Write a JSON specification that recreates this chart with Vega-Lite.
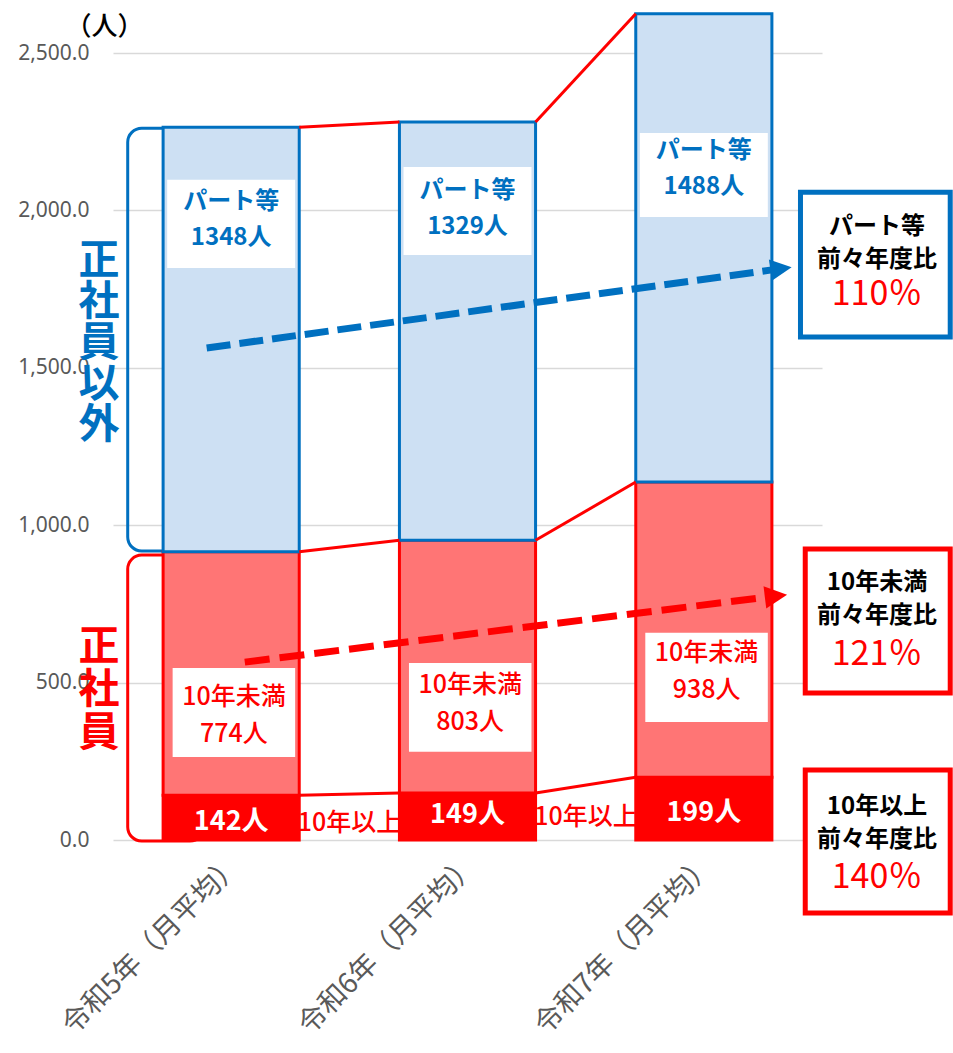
{
  "$schema": "https://vega.github.io/schema/vega-lite/v6.json",
  "width": 709,
  "height": 787,
  "autosize": {"type": "none"},
  "padding": {"left": 113, "top": 53, "right": 131, "bottom": 213},
  "background": "white",
  "config": {
    "view": {"stroke": null},
    "font": "Noto Sans CJK JP"
  },
  "datasets": {
    "bars": [
      {"cat": "令和5年（月平均）", "seg": "10年以上", "value": 142},
      {"cat": "令和5年（月平均）", "seg": "10年未満", "value": 774},
      {"cat": "令和5年（月平均）", "seg": "パート等", "value": 1348},
      {"cat": "令和6年（月平均）", "seg": "10年以上", "value": 149},
      {"cat": "令和6年（月平均）", "seg": "10年未満", "value": 803},
      {"cat": "令和6年（月平均）", "seg": "パート等", "value": 1329},
      {"cat": "令和7年（月平均）", "seg": "10年以上", "value": 199},
      {"cat": "令和7年（月平均）", "seg": "10年未満", "value": 938},
      {"cat": "令和7年（月平均）", "seg": "パート等", "value": 1488}
    ],
    "links": [
      {"from": "令和5年（月平均）", "to": "令和6年（月平均）", "v1": 142, "v2": 149},
      {"from": "令和6年（月平均）", "to": "令和7年（月平均）", "v1": 149, "v2": 199},
      {"from": "令和5年（月平均）", "to": "令和6年（月平均）", "v1": 916, "v2": 952},
      {"from": "令和6年（月平均）", "to": "令和7年（月平均）", "v1": 952, "v2": 1137},
      {"from": "令和5年（月平均）", "to": "令和6年（月平均）", "v1": 2264, "v2": 2281},
      {"from": "令和6年（月平均）", "to": "令和7年（月平均）", "v1": 2281, "v2": 2625}
    ],
    "brackets": [
      {"cat": "令和5年（月平均）", "seg": "パート等", "top": 2261, "bottom": 918},
      {"cat": "令和5年（月平均）", "seg": "10年未満", "top": 905, "bottom": -3}
    ],
    "sideText": [
      {"cat": "令和5年（月平均）", "seg": "パート等", "label": "正\n社\n員\n以\n外", "y": 1836},
      {"cat": "令和5年（月平均）", "seg": "10年未満", "label": "正\n社\n員", "y": 610}
    ],
    "partLabels": [
      {"cat": "令和5年（月平均）", "label": "パート等\n1348人", "y": 2027, "top": 2097, "bottom": 1817},
      {"cat": "令和6年（月平均）", "label": "パート等\n1329人", "y": 2062, "top": 2138, "bottom": 1858},
      {"cat": "令和7年（月平均）", "label": "パート等\n1488人", "y": 2189, "top": 2246, "bottom": 1979}
    ],
    "underLabels": [
      {"cat": "令和5年（月平均）", "label": "10年未満\n774人", "y": 454, "top": 546, "bottom": 264},
      {"cat": "令和6年（月平均）", "label": "10年未満\n803人", "y": 492, "top": 562, "bottom": 280},
      {"cat": "令和7年（月平均）", "label": "10年未満\n938人", "y": 594, "top": 658, "bottom": 375}
    ],
    "overLabels": [
      {"cat": "令和5年（月平均）", "label": "142人", "y": 57},
      {"cat": "令和6年（月平均）", "label": "149人", "y": 79},
      {"cat": "令和7年（月平均）", "label": "199人", "y": 86}
    ],
    "gapLabels": [
      {"from": "令和5年（月平均）", "label": "10年以上", "y": 54},
      {"from": "令和6年（月平均）", "label": "10年以上", "y": 73}
    ],
    "arrows": [
      {"kind": "パート等", "c1": "令和5年（月平均）", "c2": "令和7年（月平均）", "y1": 1563, "y2": 1811, "tipY": 1815},
      {"kind": "10年未満", "c1": "令和5年（月平均）", "c2": "令和7年（月平均）", "y1": 565, "y2": 772, "tipY": 775}
    ],
    "ratioBoxes": [
      {"cat": "令和7年（月平均）", "kind": "パート等", "head": "パート等\n前々年度比", "pct": "110％", "top": 2058, "bottom": 1598, "headY": 1947, "pctY": 1731},
      {"cat": "令和7年（月平均）", "kind": "10年未満", "head": "10年未満\n前々年度比", "pct": "121％", "top": 924, "bottom": 467, "headY": 816, "pctY": 588},
      {"cat": "令和7年（月平均）", "kind": "10年以上", "head": "10年以上\n前々年度比", "pct": "140％", "top": 222, "bottom": -232, "headY": 105, "pctY": -121}
    ]
  },
  "layer": [
    {
      "data": {"name": "brackets"},
      "mark": {"type": "rect", "filled": false, "strokeWidth": 3, "cornerRadius": 14},
      "encoding": {
        "x": {"field": "cat", "type": "nominal", "bandPosition": -0.26},
        "x2": {"field": "cat", "bandPosition": 0.3},
        "y": {"field": "top", "type": "quantitative"},
        "y2": {"field": "bottom"},
        "stroke": {"field": "seg", "type": "nominal", "scale": {"domain": ["10年以上", "10年未満", "パート等"], "range": ["#ff0000", "#ff0000", "#0070c0"]}, "legend": null}
      }
    },
    {
      "data": {"name": "bars"},
      "mark": {"type": "bar", "strokeWidth": 3},
      "encoding": {
        "x": {
          "field": "cat", "type": "nominal", "title": null,
          "scale": {"domain": ["令和5年（月平均）", "令和6年（月平均）", "令和7年（月平均）"], "paddingInner": 0.424, "paddingOuter": 0.212},
          "axis": {"labelAngle": -45, "labelAlign": "right", "labelBaseline": "middle", "labelFontSize": 28, "labelColor": "#595959", "labelPadding": 20, "labelOffset": 6, "labelLimit": 0, "domain": false, "ticks": false, "labelFont": "Noto Sans CJK JP", "grid": false}
        },
        "y": {
          "field": "value", "type": "quantitative", "stack": "zero", "title": "（人）",
          "scale": {"domain": [0, 2500], "nice": false},
          "axis": {"values": [0, 500, 1000, 1500, 2000, 2500], "format": ",.1f", "labelFont": "Noto Sans", "labelFontSize": 21, "labelColor": "#595959", "labelPadding": 24, "domain": false, "ticks": false, "grid": true, "gridColor": "#d9d9d9", "gridWidth": 1.5, "titleAngle": 0, "titleX": -9, "titleY": -27, "titleAlign": "center", "titleBaseline": "middle", "titleFontSize": 26, "titleFontWeight": 500, "titleColor": "#000000", "titleFont": "Noto Sans CJK JP"}
        },
        "fill": {"field": "seg", "type": "nominal", "scale": {"domain": ["10年以上", "10年未満", "パート等"], "range": ["#ff0000", "#ff7575", "#cde0f3"]}, "legend": null},
        "stroke": {"field": "seg", "type": "nominal", "scale": {"domain": ["10年以上", "10年未満", "パート等"], "range": ["#ff0000", "#ff0000", "#0070c0"]}, "legend": null},
        "order": {"field": "seg", "type": "ordinal", "sort": "ascending"}
      }
    },
    {
      "data": {"name": "links"},
      "mark": {"type": "rule", "color": "#ff0000", "strokeWidth": 3},
      "encoding": {
        "x": {"field": "from", "type": "nominal", "bandPosition": 1},
        "x2": {"field": "to", "bandPosition": 0},
        "y": {"field": "v1", "type": "quantitative"},
        "y2": {"field": "v2"}
      }
    },
    {
      "data": {"name": "partLabels"},
      "mark": {"type": "rect", "fill": "#ffffff"},
      "encoding": {
        "x": {"field": "cat", "type": "nominal", "bandPosition": 0.03},
        "x2": {"field": "cat", "bandPosition": 0.97},
        "y": {"field": "top", "type": "quantitative"},
        "y2": {"field": "bottom"}
      }
    },
    {
      "data": {"name": "partLabels"},
      "mark": {"type": "text", "lineBreak": "\n", "fill": "#0070c0", "fontSize": 24, "fontWeight": "bold", "lineHeight": 36, "align": "center", "baseline": "middle", "font": "Noto Sans CJK JP"},
      "encoding": {
        "x": {"field": "cat", "type": "nominal", "bandPosition": 0.5},
        "y": {"field": "y", "type": "quantitative"},
        "text": {"field": "label"}
      }
    },
    {
      "data": {"name": "underLabels"},
      "mark": {"type": "rect", "fill": "#ffffff"},
      "encoding": {
        "x": {"field": "cat", "type": "nominal", "bandPosition": 0.07},
        "x2": {"field": "cat", "bandPosition": 0.97},
        "y": {"field": "top", "type": "quantitative"},
        "y2": {"field": "bottom"}
      }
    },
    {
      "data": {"name": "underLabels"},
      "mark": {"type": "text", "lineBreak": "\n", "fill": "#ff0000", "fontSize": 25, "fontWeight": 500, "lineHeight": 37, "align": "center", "baseline": "middle", "font": "Noto Sans CJK JP"},
      "encoding": {
        "x": {"field": "cat", "type": "nominal", "bandPosition": 0.52},
        "y": {"field": "y", "type": "quantitative"},
        "text": {"field": "label"}
      }
    },
    {
      "data": {"name": "overLabels"},
      "mark": {"type": "text", "fill": "#ffffff", "fontSize": 27, "fontWeight": "bold", "align": "center", "baseline": "middle", "font": "Noto Sans CJK JP"},
      "encoding": {
        "x": {"field": "cat", "type": "nominal", "bandPosition": 0.5},
        "y": {"field": "y", "type": "quantitative"},
        "text": {"field": "label"}
      }
    },
    {
      "data": {"name": "gapLabels"},
      "mark": {"type": "text", "fill": "#ff0000", "fontSize": 25, "fontWeight": 500, "align": "center", "baseline": "middle", "font": "Noto Sans CJK JP"},
      "encoding": {
        "x": {"field": "from", "type": "nominal", "bandPosition": 1.37},
        "y": {"field": "y", "type": "quantitative"},
        "text": {"field": "label"}
      }
    },
    {
      "data": {"name": "sideText"},
      "transform": [{"filter": "datum.seg === 'パート等'"}],
      "mark": {"type": "text", "lineBreak": "\n", "fill": "#0070c0", "fontSize": 41, "fontWeight": "bold", "lineHeight": 41, "align": "center", "baseline": "middle", "font": "Noto Sans CJK JP"},
      "encoding": {
        "x": {"field": "cat", "type": "nominal", "bandPosition": -0.47},
        "y": {"field": "y", "type": "quantitative"},
        "text": {"field": "label"}
      }
    },
    {
      "data": {"name": "sideText"},
      "transform": [{"filter": "datum.seg === '10年未満'"}],
      "mark": {"type": "text", "lineBreak": "\n", "fill": "#ff0000", "fontSize": 41, "fontWeight": "bold", "lineHeight": 43, "align": "center", "baseline": "middle", "font": "Noto Sans CJK JP"},
      "encoding": {
        "x": {"field": "cat", "type": "nominal", "bandPosition": -0.47},
        "y": {"field": "y", "type": "quantitative"},
        "text": {"field": "label"}
      }
    },
    {
      "data": {"name": "arrows"},
      "transform": [{"filter": "datum.kind === 'パート等'"}],
      "mark": {"type": "rule", "color": "#0070c0", "strokeWidth": 7, "strokeDash": [24, 9]},
      "encoding": {
        "x": {"field": "c1", "type": "nominal", "bandPosition": 0.32},
        "x2": {"field": "c2", "bandPosition": 1.0},
        "y": {"field": "y1", "type": "quantitative"},
        "y2": {"field": "y2"}
      }
    },
    {
      "data": {"name": "arrows"},
      "transform": [{"filter": "datum.kind === 'パート等'"}],
      "mark": {"type": "point", "shape": "M-1,-1L1,0L-1,1Z", "filled": true, "opacity": 1, "fill": "#0070c0", "size": 460, "angle": -8},
      "encoding": {
        "x": {"field": "c2", "type": "nominal", "bandPosition": 1.067},
        "y": {"field": "tipY", "type": "quantitative"}
      }
    },
    {
      "data": {"name": "arrows"},
      "transform": [{"filter": "datum.kind === '10年未満'"}],
      "mark": {"type": "rule", "color": "#ff0000", "strokeWidth": 7, "strokeDash": [25, 10]},
      "encoding": {
        "x": {"field": "c1", "type": "nominal", "bandPosition": 0.6},
        "x2": {"field": "c2", "bandPosition": 0.97},
        "y": {"field": "y1", "type": "quantitative"},
        "y2": {"field": "y2"}
      }
    },
    {
      "data": {"name": "arrows"},
      "transform": [{"filter": "datum.kind === '10年未満'"}],
      "mark": {"type": "point", "shape": "M-1,-1L1,0L-1,1Z", "filled": true, "opacity": 1, "fill": "#ff0000", "size": 500, "angle": -7},
      "encoding": {
        "x": {"field": "c2", "type": "nominal", "bandPosition": 1.03},
        "y": {"field": "tipY", "type": "quantitative"}
      }
    },
    {
      "data": {"name": "ratioBoxes"},
      "transform": [{"filter": "datum.kind === 'パート等'"}],
      "mark": {"type": "rect", "fill": "#ffffff", "stroke": "#0070c0", "strokeWidth": 5},
      "encoding": {
        "x": {"field": "cat", "type": "nominal", "bandPosition": 1.21},
        "x2": {"field": "cat", "bandPosition": 2.31},
        "y": {"field": "top", "type": "quantitative"},
        "y2": {"field": "bottom"}
      }
    },
    {
      "data": {"name": "ratioBoxes"},
      "transform": [{"filter": "datum.kind !== 'パート等'"}],
      "mark": {"type": "rect", "fill": "#ffffff", "stroke": "#ff0000", "strokeWidth": 5},
      "encoding": {
        "x": {"field": "cat", "type": "nominal", "bandPosition": 1.245},
        "x2": {"field": "cat", "bandPosition": 2.31},
        "y": {"field": "top", "type": "quantitative"},
        "y2": {"field": "bottom"}
      }
    },
    {
      "data": {"name": "ratioBoxes"},
      "mark": {"type": "text", "lineBreak": "\n", "fill": "#000000", "fontSize": 24, "fontWeight": "bold", "lineHeight": 33, "align": "center", "baseline": "middle", "font": "Noto Sans CJK JP"},
      "encoding": {
        "x": {"field": "cat", "type": "nominal", "bandPosition": 1.772},
        "y": {"field": "headY", "type": "quantitative"},
        "text": {"field": "head"}
      }
    },
    {
      "data": {"name": "ratioBoxes"},
      "mark": {"type": "text", "fill": "#ff0000", "fontSize": 34, "align": "center", "baseline": "middle", "font": "Noto Sans CJK JP"},
      "encoding": {
        "x": {"field": "cat", "type": "nominal", "bandPosition": 1.772},
        "y": {"field": "pctY", "type": "quantitative"},
        "text": {"field": "pct"}
      }
    }
  ]
}
